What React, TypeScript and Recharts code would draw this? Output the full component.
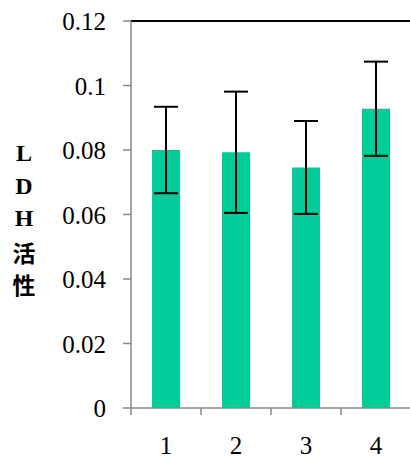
import { BarChart, Bar, XAxis, YAxis, ErrorBar, ReferenceLine } from 'recharts'

const groups = ['1', '2', '3', '4']
const ldh = [0.08, 0.0793, 0.0746, 0.0928]
const sd = [0.0134, 0.0188, 0.0144, 0.0146]
const yTicks = [0, 0.02, 0.04, 0.06, 0.08, 0.1, 0.12]
const labelChars = ['L', 'D', 'H', '活', '性']

const data = groups.map((g, i) => ({ name: g, value: ldh[i], err: sd[i] }))

const W = 420
const H = 459
const LEFT = 131
const RIGHT = 9
const BAND = (W - LEFT - RIGHT) / groups.length
const SERIF = 'Liberation Serif'

const XTick = ({ x, y, payload, index }: any) => {
  const left = x - BAND / 2
  return (
    <g>
      <line x1={left} x2={left} y1={y} y2={y + 7} stroke="#888" strokeWidth={1.5} />
      {index === groups.length - 1 && (
        <line x1={x + BAND / 2} x2={x + BAND / 2} y1={y} y2={y + 7} stroke="#888" strokeWidth={1.5} />
      )}
      <text x={x} y={y + 46} textAnchor="middle" fontFamily={SERIF} fontSize={25} fill="#000">
        {payload.value}
      </text>
    </g>
  )
}

const YTick = ({ x, y, payload }: any) => (
  <text x={x} y={y + 9} textAnchor="end" fontFamily={SERIF} fontSize={25} fill="#000">
    {String(payload.value)}
  </text>
)

const YLabel = () => (
  <g>
    {labelChars.map((c, i) => (
      <text
        key={i}
        x={24}
        y={[161, 194, 226, 262, 294][i]}
        textAnchor="middle"
        fontFamily={i < 3 ? SERIF : 'Noto Sans CJK SC'}
        fontWeight="bold"
        fontSize={i < 3 ? 24 : 23}
        fill="#000"
      >
        {c}
      </text>
    ))}
  </g>
)

export default function App() {
  return (
    <div style={{ position: 'absolute', left: 0, top: 0, background: '#fff' }}>
      <BarChart width={W} height={H} data={data} margin={{ top: 21, right: RIGHT, bottom: 11, left: 0 }} barCategoryGap="30%">
        <XAxis
          dataKey="name"
          axisLine={{ stroke: '#888', strokeWidth: 1.5 }}
          tickLine={false}
          tickSize={0}
          tickMargin={0}
          tick={<XTick />}
          height={40}
          interval={0}
        />
        <YAxis
          domain={[0, 0.12]}
          ticks={yTicks}
          width={LEFT}
          axisLine={{ stroke: '#888', strokeWidth: 1.5 }}
          tickLine={{ stroke: '#888', strokeWidth: 1.5 }}
          tickSize={8}
          tickMargin={17}
          tick={<YTick />}
          label={<YLabel />}
        />
        <ReferenceLine y={0.12} stroke="#000" strokeWidth={2} />
        <Bar dataKey="value" fill="#00CC99" isAnimationActive={false}>
          <ErrorBar dataKey="err" width={12} stroke="#000" strokeWidth={2} />
        </Bar>
      </BarChart>
    </div>
  )
}
